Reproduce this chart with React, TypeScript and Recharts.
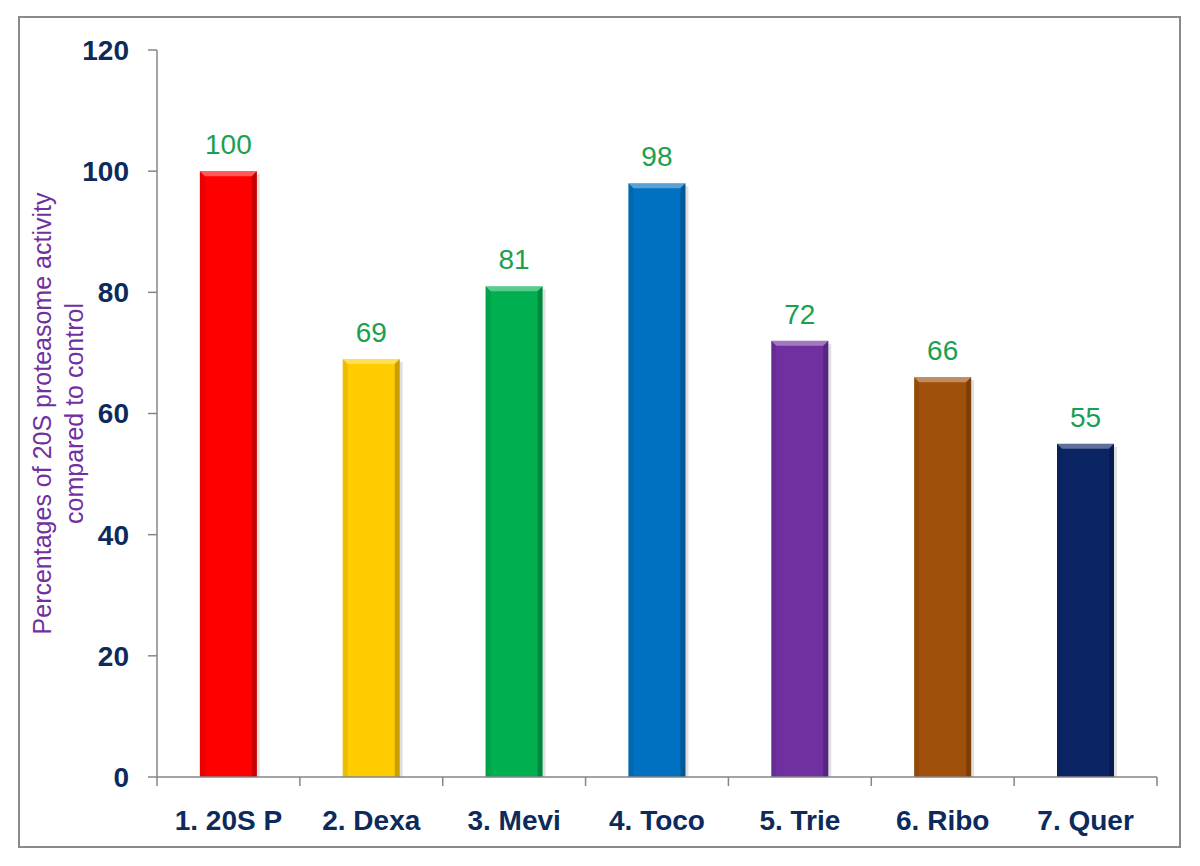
import React from 'react';
import { BarChart, Bar, XAxis, YAxis, LabelList, Cell } from 'recharts';

const categories = ['1. 20S P', '2. Dexa', '3. Mevi', '4. Toco', '5. Trie', '6. Ribo', '7. Quer'];
const activity = [100, 69, 81, 98, 72, 66, 55];
const yTicks = [0, 20, 40, 60, 80, 100, 120];
const barColors = ['#FF0000', '#FFCC00', '#00B050', '#0070C0', '#7030A0', '#A0500A', '#0A2464'];

const data = categories.map((name, i) => ({ name, value: activity[i] }));

const FONT = "Arial, 'Liberation Sans', sans-serif";
const CHART_W = 1200;
const CHART_H = 866;
const MARGIN = { top: 50, right: 43, left: 97, bottom: 49 };
const Y_AXIS_W = 60;
const PLOT_W = CHART_W - MARGIN.left - MARGIN.right - Y_AXIS_W;
const HALF_BAND = PLOT_W / categories.length / 2;

function BevelBar(props: any) {
  const { x, y, width, height, index } = props;
  const fill = barColors[index];
  const b = 5;
  if (!height || height <= 0) return null;
  return (
    <g>
      <rect x={x + 3} y={y + 3} width={width} height={height - 3} fill="#000" opacity={0.12} />
      <rect x={x} y={y} width={width} height={height} fill={fill} />
      <polygon
        points={`${x},${y} ${x + width},${y} ${x + width - b},${y + b} ${x + b},${y + b}`}
        fill="#fff"
        opacity={0.35}
      />
      <polygon
        points={`${x},${y} ${x + b},${y + b} ${x + b},${y + height} ${x},${y + height}`}
        fill="#000"
        opacity={0.08}
      />
      <polygon
        points={`${x + width},${y} ${x + width - b},${y + b} ${x + width - b},${y + height} ${x + width},${y + height}`}
        fill="#000"
        opacity={0.22}
      />
    </g>
  );
}

function XTick(props: any) {
  const { x, y, payload, index } = props;
  const last = index === categories.length - 1;
  return (
    <g>
      <line x1={x - HALF_BAND} y1={y} x2={x - HALF_BAND} y2={y + 9} stroke="#868686" strokeWidth={1.5} />
      {last && (
        <line x1={x + HALF_BAND} y1={y} x2={x + HALF_BAND} y2={y + 9} stroke="#868686" strokeWidth={1.5} />
      )}
      <text x={x} y={y + 53} textAnchor="middle" fill="#0D2A5C" fontSize={28} fontWeight="bold" fontFamily={FONT}>
        {payload.value}
      </text>
    </g>
  );
}

function YTitle() {
  const cy = MARGIN.top + (CHART_H - MARGIN.top - MARGIN.bottom - 40) / 2;
  return (
    <g fill="#7030A0" fontSize={25} fontFamily={FONT}>
      <text x={42} y={cy} transform={`rotate(-90, 42, ${cy})`} textAnchor="middle" dominantBaseline="central">
        Percentages of 20S proteasome activity
      </text>
      <text x={74} y={cy} transform={`rotate(-90, 74, ${cy})`} textAnchor="middle" dominantBaseline="central">
        compared to control
      </text>
    </g>
  );
}

export default function App() {
  return (
    <div style={{ position: 'absolute', left: 0, top: 0, width: CHART_W, height: CHART_H, background: '#fff' }}>
      <div
        style={{
          position: 'absolute',
          left: 18,
          top: 16,
          width: 1163,
          height: 832,
          border: '2px solid #8a8a8a',
          boxSizing: 'border-box',
        }}
      />
      <div style={{ position: 'absolute', left: 0, top: 0 }}>
        <BarChart width={CHART_W} height={CHART_H} data={data} margin={MARGIN} barCategoryGap="30%">
          <XAxis
            dataKey="name"
            tickLine={false}
            tickSize={0}
            tickMargin={0}
            height={40}
            axisLine={{ stroke: '#868686', strokeWidth: 1.5 }}
            tick={<XTick />}
            interval={0}
          />
          <YAxis
            width={Y_AXIS_W}
            domain={[0, 120]}
            ticks={yTicks}
            interval={0}
            tickSize={9}
            tickMargin={19}
            axisLine={{ stroke: '#868686', strokeWidth: 1.5 }}
            tickLine={{ stroke: '#868686', strokeWidth: 1.5 }}
            tick={{ fill: '#0D2A5C', fontSize: 28, fontWeight: 'bold', fontFamily: FONT }}
            label={{ content: () => <YTitle /> }}
          />
          <Bar dataKey="value" isAnimationActive={false} shape={<BevelBar />}>
            {data.map((d, i) => (
              <Cell key={d.name} fill={barColors[i]} />
            ))}
            <LabelList dataKey="value" position="top" offset={17} fill="#1BA04F" fontSize={28} fontFamily={FONT} />
          </Bar>
        </BarChart>
      </div>
    </div>
  );
}
